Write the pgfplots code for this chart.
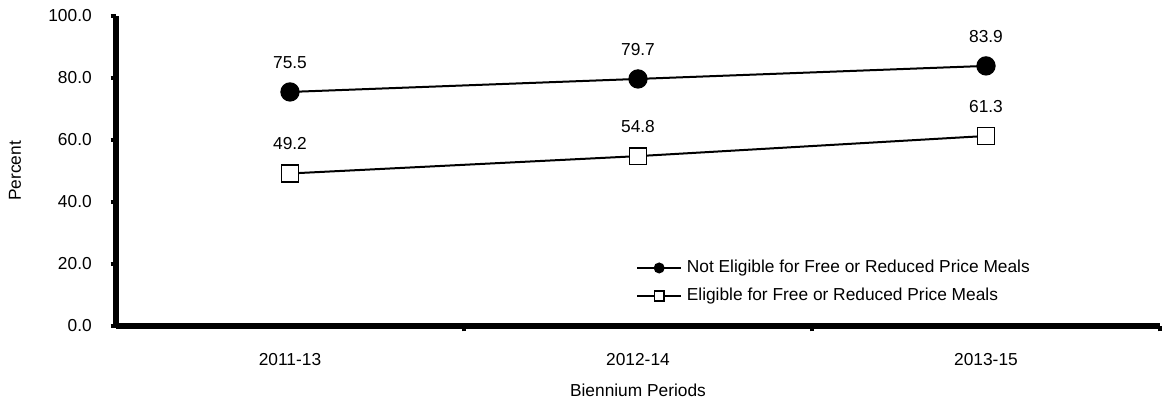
\documentclass[border=0pt]{standalone}
\usepackage{fontspec}
\setmainfont{Liberation Sans}
\usepackage{pgfplots}
\pgfplotsset{compat=1.18}
\begin{document}
\begin{tikzpicture}
\begin{axis}[
  scale only axis, width=783pt, height=232.5pt,
  xmin=0, xmax=3, ymin=0, ymax=100,
  axis x line=bottom, axis y line=left,
  axis line style={line width=3.8pt, -},
  clip=false,
  font=\fontsize{13}{15}\selectfont,
  tick align=outside,
  major tick length=4pt, minor tick length=4pt,
  tick style={black, line width=2.4pt},
  minor tick style={black, line width=2.4pt},
  ytick={0,20,40,60,80,100},
  xtick={0.5,1.5,2.5},
  xticklabels={2011-13,2012-14,2013-15},
  major x tick style={draw=none},
  minor xtick={1,2,3},
  /pgf/number format/.cd, fixed, fixed zerofill, precision=1, assume math mode=true,
  /pgfplots/.cd,
  yticklabel style={anchor=east, inner sep=0pt, xshift=-14pt},
  xticklabel style={anchor=center, inner sep=0pt, yshift=-21pt},
  xlabel={Biennium Periods},
  ylabel={Percent},
  xlabel style={at={(axis description cs:0.5,-0.2065)}, anchor=center, inner sep=0pt},
  ylabel style={at={(axis description cs:-0.0967,0.5)}, anchor=center, inner sep=0pt},
  legend style={draw=none, fill=none, inner sep=0pt, at={(axis description cs:0.498,0.142)}, anchor=west,
    nodes={inner sep=0pt, text height=10pt, text depth=3pt}, row sep=8pt, font=\fontsize{13}{15}\selectfont},
  legend cell align=left,
  legend image code/.code={\draw[#1, mark repeat=2, mark phase=2, mark size=3.6pt] plot coordinates {(0pt,0pt)(16.5pt,0pt)(33pt,0pt)};},
  nodes near coords,
  every node near coord/.append style={font=\fontsize{13}{15}\selectfont, anchor=south, inner sep=0pt, yshift=17pt, black},
]
\addplot[black, line width=1.5pt, mark=*, mark size=6.75pt, mark options={fill=black, line width=1pt}]
  coordinates {(0.5,75.5)(1.5,79.7)(2.5,83.9)};
\addlegendentry{\hspace{3.5pt}Not Eligible for Free or Reduced Price Meals}
\addplot[black, line width=1.5pt, mark=square*, mark size=6.3pt, mark options={fill=white, line width=1.2pt}]
  coordinates {(0.5,49.2)(1.5,54.8)(2.5,61.3)};
\addlegendentry{\hspace{3.5pt}Eligible for Free or Reduced Price Meals}
\end{axis}
\pgfresetboundingbox
\path (current axis.south west) ++(-87pt,-55.5pt) rectangle ++(875.25pt,300pt);
\end{tikzpicture}
\end{document}
